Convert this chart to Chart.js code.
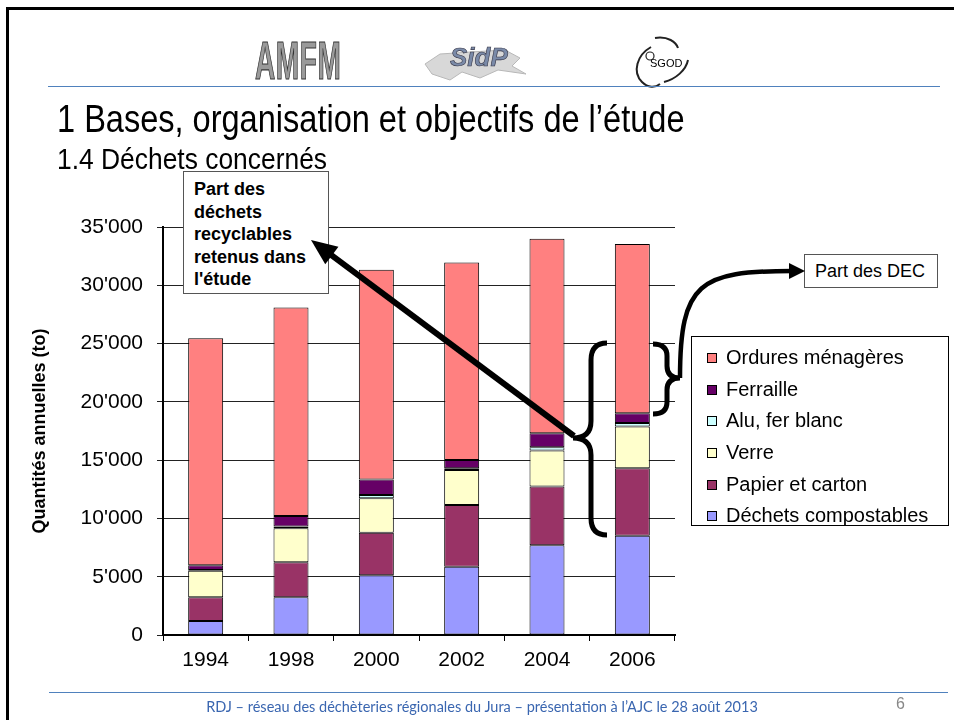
<!DOCTYPE html>
<html>
<head>
<meta charset="utf-8">
<script src="https://cdn.jsdelivr.net/npm/chart.js@4"></script>
<style>
  html,body{margin:0;padding:0;background:#fff;}
  body{width:954px;height:720px;position:relative;overflow:hidden;font-family:'Liberation Sans',Arial,sans-serif;}
  .abs{position:absolute;}
  #frame{left:6px;top:7px;width:1000px;height:800px;border-left:3px solid #000;border-top:3px solid #000;}
  #chart{left:0;top:0;}
  .hline{height:0;border-top:1.5px solid #4f81bd;}
  #title{left:57px;top:100px;font-size:38px;line-height:1;color:#000;white-space:nowrap;transform:scaleX(0.856);transform-origin:0 0;}
  #subtitle{left:57px;top:144px;font-size:30px;line-height:1;color:#000;white-space:nowrap;transform:scaleX(0.88);transform-origin:0 0;}
  #note{left:183px;top:171px;width:146px;height:123px;border:1px solid #555;background:#fff;box-sizing:border-box;padding:6px 0 0 10px;font-weight:bold;font-size:18px;line-height:22.5px;}
  #dec{left:804px;top:254px;width:134px;height:34px;border:1px solid #555;background:#fff;box-sizing:border-box;font-size:18px;line-height:32px;padding-left:10px;}
  #legend{left:691px;top:336px;width:258px;height:190px;border:1px solid #000;background:#fff;box-sizing:border-box;padding-top:5px;}
  .li{height:31.7px;line-height:31.7px;font-size:20px;white-space:nowrap;position:relative;padding-left:34px;}
  .li span.sw{position:absolute;left:15px;top:11px;width:8px;height:8px;border:1px solid #000;}
  #footer{left:0;width:964px;top:698px;text-align:center;font-family:Lato,'Open Sans',sans-serif;font-size:14.5px;color:#3a66b0;white-space:nowrap;}
  #page{left:896px;top:695px;font-size:16px;color:#888;}
  #amfm{left:255px;top:33px;font-size:54px;line-height:1;font-weight:bold;color:#9a9a9a;-webkit-text-stroke:1.2px #333;transform:scaleX(0.52);transform-origin:0 0;letter-spacing:1px;}
  #sidp{left:450px;top:42px;font-size:26px;font-weight:bold;color:#7a8aa8;-webkit-text-stroke:0.6px #334;font-style:italic;}
  #sgod{left:650px;top:57px;font-size:11px;color:#000;}
</style>
</head>
<body>
<div id="frame" class="abs"></div>
<canvas id="chart" class="abs" width="954" height="720"></canvas>

<svg class="abs" style="left:0;top:0" width="954" height="720">
  <path d="M425,64 L440,54 L470,52 L505,50 L520,58 L512,66 L526,74 L498,70 L480,78 L462,72 L450,80 L432,74 Z" fill="#d8d8d8" stroke="#b8b8b8" stroke-width="1"/>
  <path d="M651,47 C637,55 632,72 642,82 C648,88 655,88 660,84 M664,82 C676,79 686,70 688,60 M655,38 C668,36 676,42 678,48" fill="none" stroke="#222" stroke-width="2"/>
  <circle cx="650" cy="56" r="4" fill="none" stroke="#222" stroke-width="1.2"/>
</svg>
<div id="amfm" class="abs">AMFM</div>
<div id="sidp" class="abs">SidP</div>
<div id="sgod" class="abs">SGOD</div>

<div class="abs hline" style="left:48px;top:86px;width:892px;"></div>
<div id="title" class="abs">1 Bases, organisation et objectifs de l’étude</div>
<div id="subtitle" class="abs">1.4 Déchets concernés</div>

<div id="note" class="abs">Part des<br>déchets<br>recyclables<br>retenus dans<br>l'étude</div>
<div id="dec" class="abs">Part des DEC</div>
<div id="legend" class="abs"></div>

<svg id="ov" class="abs" style="left:0;top:0" width="954" height="720"></svg>

<div class="abs hline" style="left:49px;top:692px;width:899px;"></div>
<div id="footer" class="abs">RDJ – réseau des déchèteries régionales du Jura – présentation à l’AJC le 28 août 2013</div>
<div id="page" class="abs">6</div>

<script>
// ---- data ----
const years = ['1994', '1998', '2000', '2002', '2004', '2006'];
const seriesNames = ['Déchets compostables', 'Papier et carton', 'Verre', 'Alu, fer blanc', 'Ferraille', 'Ordures ménagères'];
const compost   = [1200, 3230, 5120, 5860, 7700, 8520];
const papier    = [2030, 3010, 3660, 5300, 5030, 5790];
const verre     = [2290, 2920, 2950, 3000, 3090, 3570];
const alu       = [60, 140, 290, 150, 290, 300];
const ferraille = [400, 910, 1310, 710, 1200, 850];
const ordures   = [19480, 17890, 18000, 16940, 16680, 14510];
const yTicks    = [0, 5000, 10000, 15000, 20000, 25000, 30000, 35000];
const colors    = ['#9999FF', '#993366', '#FFFFCC', '#CCFFFF', '#660066', '#FF8080'];

const seriesValues = [compost, papier, verre, alu, ferraille, ordures];
const fmt = v => v === 0 ? '0' : Math.floor(v / 1000) + "'" + String(v % 1000).padStart(3, '0');

Chart.defaults.font.family = "'Liberation Sans', Arial, sans-serif";
Chart.defaults.color = '#000';

new Chart(document.getElementById('chart'), {
  type: 'bar',
  data: {
    labels: years,
    datasets: seriesNames.map((n, i) => ({
      label: n, data: seriesValues[i], backgroundColor: colors[i],
      borderColor: '#000', borderWidth: 1, borderSkipped: false,
      barPercentage: 0.41, categoryPercentage: 1
    }))
  },
  options: {
    responsive: false, animation: false, devicePixelRatio: 1,
    layout: { padding: { left: 0, top: 227, right: 279, bottom: 45 } },
    plugins: { legend: { display: false }, tooltip: { enabled: false } },
    scales: {
      x: {
        stacked: true,
        grid: { drawOnChartArea: false, offset: true, tickLength: 6, color: '#000', lineWidth: 1 },
        border: { color: '#000', width: 2 },
        ticks: { color: '#000', font: { size: 21 }, padding: 7 },
        afterFit(s) { s.height = 40; }
      },
      y: {
        stacked: true, min: 0, max: 35000,
        afterBuildTicks(s) { s.ticks = yTicks.map(v => ({ value: v })); },
        ticks: { color: '#000', font: { size: 21 }, padding: 14, callback: v => fmt(v) },
        grid: { color: '#222', tickLength: 6, lineWidth: 1 },
        border: { color: '#000', width: 2 },
        title: { display: true, text: 'Quantités annuelles (to)', color: '#000', font: { size: 18, weight: 'bold' }, padding: { top: 29, bottom: 0 } },
        afterFit(s) { s.width = 163; }
      }
    }
  }
});

// legend (reverse order, as in reference)
const leg = document.getElementById('legend');
for (let i = seriesNames.length - 1; i >= 0; i--) {
  const d = document.createElement('div');
  d.className = 'li';
  d.innerHTML = '<span class="sw" style="background:' + colors[i] + '"></span>' + seriesNames[i];
  leg.appendChild(d);
}

// annotation overlay: arrows and braces
const ov = document.getElementById('ov');
const NS = 'http://www.w3.org/2000/svg';
function el(tag, attrs) { const e = document.createElementNS(NS, tag); for (const k in attrs) e.setAttribute(k, attrs[k]); ov.appendChild(e); return e; }
function head(tx, ty, ux, uy, len, hw) {
  const bx = tx - ux * len, by = ty - uy * len;
  el('polygon', { points: [tx, ty, bx - uy * hw, by + ux * hw, bx + uy * hw, by - ux * hw].join(','), fill: '#000' });
}
// straight arrow
(function () {
  const x1 = 574, y1 = 436, tx = 311, ty = 240;
  const dx = tx - x1, dy = ty - y1, L = Math.hypot(dx, dy), ux = dx / L, uy = dy / L;
  el('line', { x1, y1, x2: tx - ux * 20, y2: ty - uy * 20, stroke: '#000', 'stroke-width': 6 });
  head(tx, ty, ux, uy, 26, 11);
})();
// big left brace
el('path', { d: 'M607,343 Q591,343 591,360 L591,421 Q591,438 573,438 Q591,438 591,455 L591,518 Q591,535 607,535', fill: 'none', stroke: '#000', 'stroke-width': 5 });
// small right brace
el('path', { d: 'M653,344 Q667,344 667,356 L667,366 Q667,378 680,378 Q667,378 667,390 L667,402 Q667,414 653,414', fill: 'none', stroke: '#000', 'stroke-width': 5 });
// curved arrow
el('path', { d: 'M680,378 C680,282 700,271 792,271', fill: 'none', stroke: '#000', 'stroke-width': 4.5 });
head(805, 271, 1, 0, 16, 8);
</script>
</body>
</html>
